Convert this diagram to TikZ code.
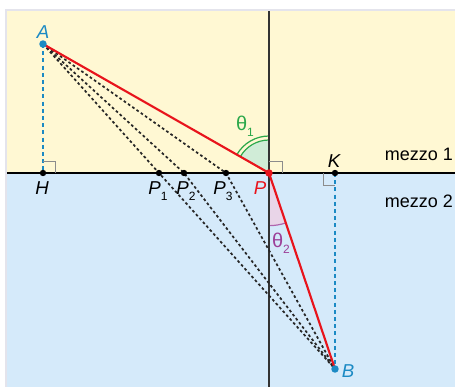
\documentclass[tikz,border=0pt]{standalone}
\usepackage{fontspec}
\setmainfont{Liberation Sans}
\usetikzlibrary{positioning,angles,calc}

\definecolor{bgyellow}{HTML}{FFF8D3}
\definecolor{bgblue}{HTML}{D5EAFA}
\definecolor{framegray}{HTML}{E4E4EC}
\definecolor{ptblue}{HTML}{1B8AC4}
\definecolor{rayred}{HTML}{E8141C}
\definecolor{thgreen}{HTML}{2BA84A}
\definecolor{thpurple}{HTML}{9C3F98}

\newcommand{\lowsub}[1]{\raisebox{-4.5pt}{\upshape\fontsize{9}{10}\selectfont #1}}

\begin{document}
\begin{tikzpicture}[
    x=0.75pt, y=0.75pt,
    font=\fontsize{13.5}{16}\selectfont,
    ray/.style={
        draw=rayred,
        line width=1.6pt
    },
    trial/.style={
        draw=black!85,
        line width=1.3pt,
        dash pattern=on 2pt off 1.9pt
    },
    proj/.style={
        draw=ptblue,
        line width=1.1pt,
        dash pattern=on 3pt off 2.4pt
    },
    normalline/.style={
        draw=black!80,
        line width=1pt
    },
    interface/.style={
        draw=black,
        line width=2pt
    },
    rightmark/.style={
        draw=black!45,
        line width=0.6pt
    },
    ptlabel/.style={
        font=\fontsize{14}{16}\selectfont\itshape,
        inner sep=0pt
    },
    anglabel/.style={
        font=\fontsize{15}{17}\selectfont,
        inner sep=0pt
    }
]
\useasboundingbox (0,0) rectangle (455,387);

% Media
\fill[bgyellow] (7,214) rectangle (455,376);
\fill[bgblue] (7,0) rectangle (455,214);
\draw[framegray, line width=1.5pt] (6,0) -- (6,377) -- (455,377);

% Points
\coordinate (A) at (43,343);
\coordinate (H) at (43,214);
\coordinate (P1) at (159,214);
\coordinate (P2) at (184,214);
\coordinate (P3) at (226,214);
\coordinate (P) at (269,214);
\coordinate (K) at (335,214);
\coordinate (B) at (335,18);
\coordinate (N1) at (269,376);
\coordinate (N2) at (269,0);
\coordinate (L) at (7,214);
\coordinate (R) at (455,214);

% Angles
\pic[draw=thgreen, fill=thgreen!22, line width=0.9pt, angle radius=24.75pt] {angle=N1--P--A};
\pic[draw=thgreen, line width=0.9pt, angle radius=27.75pt] {angle=N1--P--A};
\pic[draw=thpurple!80, fill=thpurple!22, line width=0.9pt, angle radius=39.5pt] {angle=N2--P--B};

% Lines
\draw[normalline] (N1) -- (N2);
\draw[proj] (A) -- (H);
\draw[proj] (K) -- (B);
\foreach \q in {P1,P2,P3} {
    \draw[trial] (A) -- (\q) -- (B);
}
\draw[interface] (L) -- (R);
\draw[ray] (A) -- (P) -- (B);

% Right angles
\draw[rightmark] ($(H)+(0,12)$) -| ($(H)+(12,0)$);
\draw[rightmark] ($(P)+(0,12)$) -| ($(P)+(13,0)$);
\draw[rightmark] ($(K)+(0,-12)$) -| ($(K)+(-12,0)$);

% Dots
\foreach \q in {H,P1,P2,P3,K} {
    \fill[black] (\q) circle (2.4pt);
}
\fill[ptblue] (A) circle (2.8pt);
\fill[ptblue] (B) circle (2.8pt);
\fill[rayred] (P) circle (2.8pt);

% Labels
\node[ptlabel, text=ptblue] (lA) at (43,355) {A};
\node[ptlabel] (lH) at (42,199) {H};
\node[ptlabel] (lP1) at (158,196) {P\lowsub{1}};
\node[ptlabel] (lP2) at (186,196) {P\lowsub{2}};
\node[ptlabel] (lP3) at (223,196) {P\lowsub{3}};
\node[ptlabel, text=rayred] (lP) at (260,199) {P};
\node[ptlabel] (lK) at (334,226) {K};
\node[ptlabel, text=ptblue] (lB) at (348,16) {B};
\node[anglabel, text=thgreen] (th1) at (245,261) {θ\lowsub{1}};
\node[anglabel, text=thpurple] (th2) at (281,144) {θ\lowsub{2}};
\node (m1) at (419,233) {mezzo 1};
\node (m2) at (419,186) {mezzo 2};

\end{tikzpicture}
\end{document}
